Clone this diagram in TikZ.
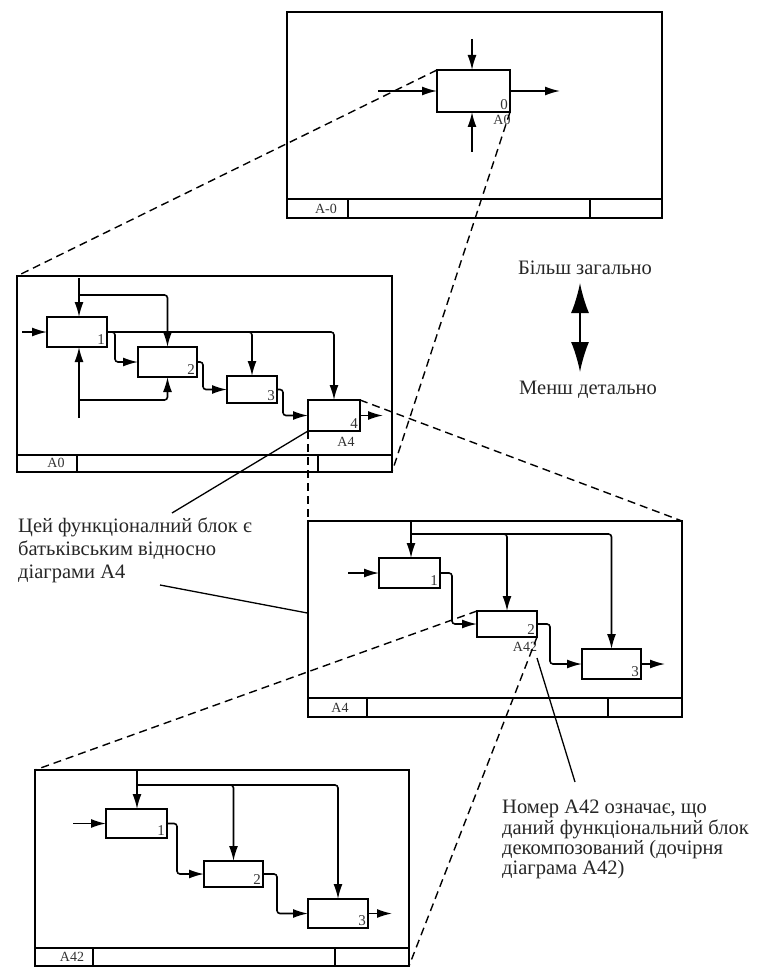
\documentclass[tikz,border=0pt]{standalone}
\usepackage{fontspec}
\setmainfont{Liberation Serif}
\usetikzlibrary{arrows.meta,calc}
\begin{document}
\begin{tikzpicture}[x=1pt,y=-1pt,
 frm/.style={draw,line width=1.9pt,anchor=north west,inner sep=0pt,outer sep=0pt},
 fbox/.style={draw,line width=1.9pt,anchor=north west,inner sep=0pt,outer sep=0pt},
 conn/.style={line width=1.6pt,rounded corners=3pt,-{Latex[length=15pt,width=9pt]}},
 foot/.style={line width=1.6pt},
 dsh/.style={line width=1.4pt,dash pattern=on 8pt off 5pt},
 call/.style={line width=1.3pt},
 num/.style={font=\fontsize{15}{15}\selectfont,anchor=south east,inner sep=2pt,text=black!80},
 lbl/.style={font=\fontsize{14}{14}\selectfont,inner sep=0pt,text=black!80},
 big/.style={font=\fontsize{20.5}{20.5}\selectfont,anchor=base west,inner sep=0pt,text=black!85},
]
\useasboundingbox (0,0) rectangle (758,968);

% ---------- top frame A-0 ----------
\node[frm,minimum width=375pt,minimum height=206pt] (F0) at (287,12) {};
\draw[foot] (287,199) -- (662,199) (348,199) -- (348,218) (590,199) -- (590,218);
\node[lbl] (F0lab) at (326,209) {A-0};
\node[fbox,minimum width=73pt,minimum height=42pt] (e0) at (437,70) {};
\node[num] (e0n) at (e0.south east) {0};
\node[lbl] (e0lab) at (502,120) {A0};
\coordinate (e0c) at (472,39);
\coordinate (e0m) at (472,152);
\coordinate (e0i) at (378,91);
\coordinate (e0o) at (560,91);
\draw[conn] (e0c) -- (e0c |- e0.north);
\draw[conn] (e0m) -- (e0m |- e0.south);
\draw[conn] (e0i) -- (e0.west);
\draw[conn] (e0.east) -- (e0o);

% ---------- A0 frame ----------
\node[frm,minimum width=375pt,minimum height=196pt] (FA0) at (17,276) {};
\draw[foot] (17,455) -- (392,455) (77,455) -- (77,472) (318,455) -- (318,472);
\node[lbl] (FA0lab) at (56,463) {A0};
\node[fbox,minimum width=60pt,minimum height=30pt] (b1) at (47,317) {};
\node[fbox,minimum width=59pt,minimum height=30pt] (b2) at (138,347) {};
\node[fbox,minimum width=50pt,minimum height=27pt] (b3) at (227,376) {};
\node[fbox,minimum width=52pt,minimum height=31pt] (b4) at (308,400) {};
\node[num] (b1n) at (b1.south east) {1};
\node[num] (b2n) at (b2.south east) {2};
\node[num] (b3n) at (b3.south east) {3};
\node[num] (b4n) at (b4.south east) {4};
\node[lbl] (b4lab) at (346,442) {A4};
\coordinate (a0i) at (22,332);
\coordinate (a0c) at (79,278);
\coordinate (a0cb) at (79,295);
\coordinate (a0m) at (79,418);
\coordinate (a0mb) at (79,400);
\coordinate (a0o) at (383,415.5);
\draw[conn] (a0i) -- (b1.west);
\draw[conn] (a0c) -- (a0c |- b1.north);
\draw[conn] (a0cb) -| (b2.north);
\draw[conn] (a0m) -- (a0m |- b1.south);
\draw[conn] (a0mb) -| (b2.south);
\draw[conn] (b1.east) -- ++(8,0) |- (b2.west);
\draw[conn] (b1.east) -| (b3.north);
\draw[conn] (b1.east) -| (b4.north);
\draw[conn] (b2.east) -- ++(6,0) |- (b3.west);
\draw[conn] (b3.east) -- ++(6,0) |- (b4.west);
\draw[conn] (b4.east) -- (a0o);

% ---------- A4 frame ----------
\node[frm,minimum width=374pt,minimum height=196pt] (FA4) at (308,521) {};
\draw[foot] (308,698) -- (682,698) (367,698) -- (367,717) (608,698) -- (608,717);
\node[lbl] (FA4lab) at (340,708) {A4};
\node[fbox,minimum width=61pt,minimum height=30pt] (c1) at (379,558) {};
\node[fbox,minimum width=60pt,minimum height=26pt] (c2) at (477,611) {};
\node[fbox,minimum width=59pt,minimum height=30pt] (c3) at (582,649) {};
\node[num] (c1n) at (c1.south east) {1};
\node[num] (c2n) at (c2.south east) {2};
\node[num] (c3n) at (c3.south east) {3};
\node[lbl] (c2lab) at (525,647) {A42};
\coordinate (a4c) at (411,521);
\coordinate (a4cb) at (411,534);
\coordinate (a4i) at (348,573);
\coordinate (a4o) at (665,664);
\draw[conn] (a4c) -- (a4c |- c1.north);
\draw[conn] (a4cb) -| (c2.north);
\draw[conn] (a4cb) -| (c3.north);
\draw[conn] (a4i) -- (c1.west);
\draw[conn] (c1.east) -- ++(12,0) |- (c2.west);
\draw[conn] (c2.east) -- ++(13,0) |- (c3.west);
\draw[conn] (c3.east) -- (a4o);

% ---------- A42 frame ----------
\node[frm,minimum width=374pt,minimum height=196pt] (FA42) at (35,770) {};
\draw[foot] (35,948) -- (409,948) (93,948) -- (93,966) (335,948) -- (335,966);
\node[lbl] (FA42lab) at (72,957) {A42};
\node[fbox,minimum width=61pt,minimum height=29pt] (d1) at (106,809) {};
\node[fbox,minimum width=59pt,minimum height=26pt] (d2) at (204,861) {};
\node[fbox,minimum width=60pt,minimum height=29pt] (d3) at (308,899) {};
\node[num] (d1n) at (d1.south east) {1};
\node[num] (d2n) at (d2.south east) {2};
\node[num] (d3n) at (d3.south east) {3};
\coordinate (a42c) at (137,770);
\coordinate (a42cb) at (137,785);
\coordinate (a42i) at (73,823.5);
\coordinate (a42o) at (392,913.5);
\draw[conn] (a42c) -- (a42c |- d1.north);
\draw[conn] (a42cb) -| (d2.north);
\draw[conn] (a42cb) -| (d3.north);
\draw[conn] (a42i) -- (d1.west);
\draw[conn] (d1.east) -- ++(10,0) |- (d2.west);
\draw[conn] (d2.east) -- ++(14,0) |- (d3.west);
\draw[conn] (d3.east) -- (a42o);

% ---------- dashed decomposition lines ----------
\draw[dsh] (e0.north west) -- (FA0.north west);
\draw[dsh] (e0.south east) -- (FA0.south east);
\draw[dsh] (b4.north east) -- (FA4.north east);
\draw[dsh] (b4.south west) -- (FA4.north west);
\draw[dsh] (c2.north west) -- (FA42.north west);
\draw[dsh] (c2.south east) -- (FA42.south east);

% ---------- level arrow ----------
\node[big] (up lab) at (518,274) {Більш загально};
\node[big] (dn lab) at (519,394) {Менш детально};
\coordinate (up) at (580,283);
\coordinate (dn) at (580,372);
\draw[line width=1.8pt,{Latex[length=30pt,width=18pt]}-{Latex[length=30pt,width=18pt]}] (up) -- (dn);

% ---------- callouts ----------
\node[big] (t1) at (18,532) {Цей функціоналний блок є};
\node[big] (t2) at (18,555) {батьківським відносно};
\node[big] (t3) at (18,578) {діаграми A4};
\coordinate (cl1) at (172,513);
\coordinate (cl2) at (160,585);
\coordinate (cl2e) at ($(FA4.north west)!0.47!(FA4.south west)$);
\draw[call] (cl1) -- (b4.south west);
\draw[call] (cl2) -- (cl2e);

\node[big] (r1) at (502,813) {Номер A42 означає, що};
\node[big] (r2) at (502,834) {даний функціональний блок};
\node[big] (r3) at (502,854) {декомпозований (дочірня};
\node[big] (r4) at (502,874) {діаграма A42)};
\coordinate (cr) at (575,782);
\coordinate (crE) at (537,658);
\draw[call] (cr) -- (crE);
\end{tikzpicture}
\end{document}
